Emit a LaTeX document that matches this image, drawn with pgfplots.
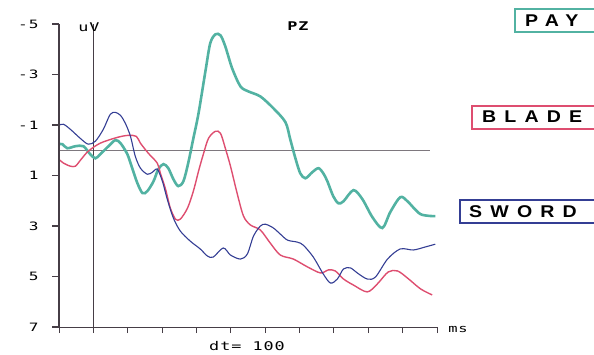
\documentclass[border=0pt]{standalone}
\usepackage{fontspec}
\usepackage{pgfplots}
\pgfplotsset{compat=1.18}
\usetikzlibrary{calc}
\newfontfamily\plotfont[FakeStretch=1.4,LetterSpace=8]{DejaVu Sans Mono}
\newfontfamily\legfont[LetterSpace=48,FakeStretch=1.15,BoldFont={Liberation Sans Bold}]{Liberation Sans}
\definecolor{cteal}{RGB}{82,178,162}
\definecolor{cred}{RGB}{222,78,112}
\definecolor{cblue}{RGB}{52,62,148}
\definecolor{caxis}{RGB}{70,62,70}
\begin{document}
\begin{tikzpicture}[x=1pt,y=1pt]
\begin{axis}[
  scale only axis, width=378pt, height=303pt,
  xmin=-100, xmax=1000, ymin=-5, ymax=7, y dir=reverse,
  axis x line=bottom, axis y line=left,
  axis line style={-, draw=caxis, line width=0.9pt},
  xtick={-100,0,...,1000}, xticklabels={},
  ytick={-5,-3,-1,1,3,5,7}, yticklabels={-5,-3,-1,1,3,5,7},
  tick align=outside, major tick length=6pt,
  xtick style={draw=caxis, line width=0.9pt},
  ytick style={draw=caxis, line width=1pt},
  yticklabel style={font={\plotfont\fontsize{11.5}{13}\selectfont}, xshift=-11pt},
  clip=false,
]
\coordinate (BL) at (axis cs:-100,7);
\draw[draw=caxis!70, line width=0.6pt] (axis cs:-100,0) -- (axis cs:980,0);
\draw[draw=caxis, line width=0.9pt] (axis cs:0,-5) -- (axis cs:0,7);
\addplot[cteal, line width=2.6pt, smooth, tension=0.5] coordinates {
(-100,-0.24)(-90,-0.24)(-76,-0.08)(-52,-0.16)(-29,-0.16)(-9,0.16)(6,0.32)(20,0.16)(44,-0.16)(64,-0.40)(79,-0.28)(99,0.16)(113,0.71)(128,1.30)(143,1.70)(157,1.62)(175,1.23)(189,0.75)(204,0.55)(218,0.71)(233,1.15)(247,1.42)(262,1.23)(276,0.51)(291,-0.47)(306,-1.46)(326,-3.12)(340,-4.23)(355,-4.59)(370,-4.55)(384,-4.11)(404,-3.24)(428,-2.53)(451,-2.33)(486,-2.13)(524,-1.66)(559,-1.11)(573,-0.43)(588,0.32)(602,0.91)(617,1.11)(637,0.87)(655,0.71)(669,0.91)(681,1.23)(698,1.82)(713,2.10)(728,2.02)(757,1.58)(783,1.94)(812,2.65)(841,3.08)(864,2.45)(893,1.86)(914,2.02)(952,2.53)(995,2.61)
};
\addplot[cred, line width=1.4pt, smooth, tension=0.5] coordinates {
(-100,0.36)(-87,0.51)(-67,0.63)(-52,0.63)(-38,0.40)(-15,0.04)(20,-0.28)(70,-0.51)(102,-0.59)(125,-0.55)(137,-0.28)(160,0.12)(186,0.51)(195,0.91)(210,1.54)(224,2.29)(239,2.73)(253,2.73)(274,2.29)(291,1.62)(306,0.83)(320,0.16)(335,-0.47)(355,-0.75)(370,-0.67)(384,-0.08)(399,0.63)(419,1.74)(437,2.61)(457,2.96)(486,3.16)(515,3.68)(544,4.15)(582,4.31)(623,4.62)(661,4.86)(684,4.74)(704,4.78)(728,5.10)(757,5.34)(797,5.61)(826,5.30)(858,4.82)(885,4.78)(914,5.06)(952,5.49)(986,5.73)
};
\addplot[cblue, line width=1.1pt, smooth, tension=0.5] coordinates {
(-100,-0.99)(-87,-1.03)(-67,-0.83)(-38,-0.47)(-15,-0.24)(6,-0.36)(29,-0.83)(49,-1.42)(64,-1.50)(79,-1.38)(93,-1.07)(108,-0.55)(122,0.24)(137,0.71)(157,0.95)(172,0.87)(186,0.75)(201,1.23)(215,1.94)(233,2.69)(253,3.20)(282,3.60)(311,3.91)(332,4.19)(349,4.23)(378,3.87)(399,4.15)(428,4.31)(448,4.11)(466,3.40)(486,3.00)(501,2.93)(524,3.08)(544,3.32)(565,3.56)(594,3.64)(611,3.76)(640,4.23)(669,4.90)(690,5.26)(710,5.10)(728,4.70)(748,4.66)(768,4.86)(797,5.10)(821,5.02)(856,4.31)(893,3.91)(931,3.95)(966,3.83)(995,3.72)
};
\end{axis}
% left axis line and tick marks, placed like the legend boxes
\draw[draw=caxis, line width=1.1pt] ($(BL)+(0pt,0pt)$) -- ($(BL)+(0pt,303pt)$);
\draw[draw=caxis, line width=1.1pt] ($(BL)+(0pt,0pt)$) -- ($(BL)+(-7pt,0pt)$);
\draw[draw=caxis, line width=1.1pt] ($(BL)+(0pt,50.5pt)$) -- ($(BL)+(-7pt,50.5pt)$);
\draw[draw=caxis, line width=1.1pt] ($(BL)+(0pt,101pt)$) -- ($(BL)+(-7pt,101pt)$);
\draw[draw=caxis, line width=1.1pt] ($(BL)+(0pt,151.5pt)$) -- ($(BL)+(-7pt,151.5pt)$);
\draw[draw=caxis, line width=1.1pt] ($(BL)+(0pt,202pt)$) -- ($(BL)+(-7pt,202pt)$);
\draw[draw=caxis, line width=1.1pt] ($(BL)+(0pt,252.5pt)$) -- ($(BL)+(-7pt,252.5pt)$);
\draw[draw=caxis, line width=1.1pt] ($(BL)+(0pt,303pt)$) -- ($(BL)+(-7pt,303pt)$);
% pixel helper: (px,py) -> BL + (px-59, 327-py)
\node[font={\plotfont\fontsize{12}{14}\selectfont}, inner sep=0pt] at ($(BL)+(30pt,300pt)$) {uV};
\node[font={\plotfont\bfseries\fontsize{12}{14}\selectfont}, inner sep=0pt] at ($(BL)+(239pt,301pt)$) {PZ};
\node[font={\plotfont\fontsize{11}{13}\selectfont}, inner sep=0pt] at ($(BL)+(399pt,-3pt)$) {ms};
\node[font={\plotfont\fontsize{12}{14}\selectfont}, inner sep=0pt] at ($(BL)+(188pt,-19pt)$) {dt= 100};
% legend boxes
\draw[cteal, line width=1.3pt] ($(BL)+(456pt,295pt)$) rectangle ($(BL)+(545pt,318pt)$);
\node[anchor=west, inner sep=0pt, font={\legfont\bfseries\fontsize{17}{17}\selectfont}] at ($(BL)+(466pt,306.5pt)$) {PAY};
\draw[cred, line width=1.3pt] ($(BL)+(413pt,198pt)$) rectangle ($(BL)+(545pt,221pt)$);
\node[anchor=west, inner sep=0pt, font={\legfont\bfseries\fontsize{17}{17}\selectfont}] at ($(BL)+(423pt,210pt)$) {BLADE};
\draw[cblue, line width=1.3pt] ($(BL)+(401pt,104pt)$) rectangle ($(BL)+(545pt,127pt)$);
\node[anchor=west, inner sep=0pt, font={\legfont\bfseries\fontsize{17}{17}\selectfont}] at ($(BL)+(410pt,115.5pt)$) {SWORD};
\pgfresetboundingbox
\path[use as bounding box] ($(BL)+(-59pt,-28pt)$) rectangle ++(594pt,355pt);
\end{tikzpicture}
\end{document}
